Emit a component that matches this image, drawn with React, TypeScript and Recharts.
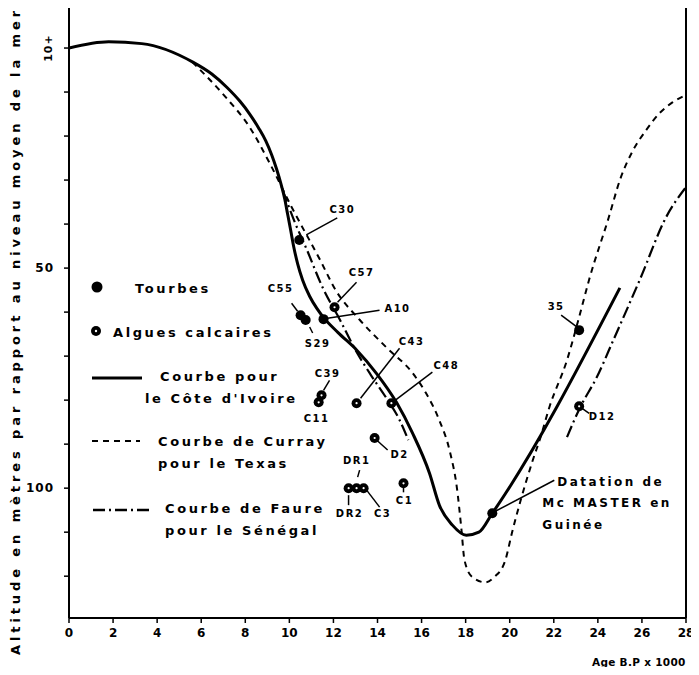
import React from "react"
import {
  ComposedChart,
  Line,
  Scatter,
  XAxis,
  YAxis,
  ReferenceLine,
} from "recharts"

// courbe pour la Côte d'Ivoire (trait plein)
const coteIvoire = [
  { x: 0, y: 0 }, { x: 1.8, y: -1.4 }, { x: 3.3, y: -1.0 }, { x: 5.62, y: 3.2 },
  { x: 6.48, y: 5.9 }, { x: 7.16, y: 8.9 }, { x: 7.75, y: 12.05 }, { x: 8.2, y: 15 },
  { x: 8.61, y: 18.2 }, { x: 8.93, y: 21.1 }, { x: 9.2, y: 24.3 }, { x: 9.42, y: 27.5 },
  { x: 9.61, y: 30.7 }, { x: 9.79, y: 34.3 }, { x: 9.92, y: 37.7 }, { x: 10.06, y: 41.4 },
  { x: 10.2, y: 45.2 }, { x: 10.38, y: 49.1 }, { x: 10.6, y: 52.7 }, { x: 10.92, y: 56.4 },
  { x: 11.24, y: 59.1 }, { x: 11.5, y: 60.9 }, { x: 12.2, y: 64.6 }, { x: 13.05, y: 68.6 },
  { x: 13.95, y: 73.9 }, { x: 14.86, y: 80.5 }, { x: 15.59, y: 87.5 }, { x: 16.36, y: 96.6 },
  { x: 16.81, y: 103.9 }, { x: 17.4, y: 108.4 }, { x: 18.03, y: 110.7 }, { x: 18.6, y: 110 },
  { x: 19.21, y: 105.7 }, { x: 25.0, y: 54.5 },
]

// courbe de Curray (tirets)
const curray = [
  { x: 5.6, y: 3.2 }, { x: 7.1, y: 11.1 }, { x: 8.2, y: 18 }, { x: 9.1, y: 26.1 },
  { x: 10.1, y: 36.1 }, { x: 11.4, y: 48.2 }, { x: 12.1, y: 55 }, { x: 13.2, y: 61.8 },
  { x: 14.4, y: 68 }, { x: 15.6, y: 73.9 }, { x: 16.2, y: 78.4 }, { x: 16.8, y: 84.5 },
  { x: 17.3, y: 92 }, { x: 17.6, y: 99.8 }, { x: 17.8, y: 108.9 }, { x: 17.95, y: 116.4 },
  { x: 18.3, y: 120.2 }, { x: 18.9, y: 121.4 }, { x: 19.3, y: 120.2 }, { x: 19.8, y: 116.4 },
  { x: 20.1, y: 110.2 }, { x: 20.5, y: 102.7 }, { x: 21.05, y: 93.6 }, { x: 21.4, y: 88.4 },
  { x: 21.8, y: 81.6 }, { x: 22.6, y: 70.9 }, { x: 23.2, y: 60.2 }, { x: 23.6, y: 52.7 },
  { x: 24.5, y: 38.4 }, { x: 25, y: 30 }, { x: 25.6, y: 23.2 }, { x: 26.2, y: 18.6 },
  { x: 26.8, y: 14.8 }, { x: 27.4, y: 12.3 }, { x: 28, y: 10.7 },
]

// courbe de Faure (trait-point), deux tronçons
const faureA = [
  { x: 9.7, y: 32.3 }, { x: 10.2, y: 39 }, { x: 10.8, y: 45.9 }, { x: 11.5, y: 54.3 },
  { x: 12.3, y: 61.8 }, { x: 13.0, y: 68.6 }, { x: 13.7, y: 74.3 }, { x: 14.4, y: 79.5 },
  { x: 15.0, y: 84.5 }, { x: 15.4, y: 89.1 },
]
const faureB = [
  { x: 22.6, y: 88.4 }, { x: 23.2, y: 81.6 }, { x: 23.95, y: 74.8 }, { x: 24.7, y: 66.4 },
  { x: 25.5, y: 57.3 }, { x: 25.9, y: 52.7 }, { x: 27.1, y: 38.4 }, { x: 28, y: 31.6 },
]

// échantillons
const tourbes = [
  { name: "C30", x: 10.45, y: 43.6 },
  { name: "C55", x: 10.51, y: 60.7 },
  { name: "S29", x: 10.74, y: 61.8 },
  { name: "A10", x: 11.55, y: 61.6 },
  { name: "35", x: 23.15, y: 64.1 },
  { name: "McMaster", x: 19.21, y: 105.7 },
]
const algues = [
  { name: "C57", x: 12.05, y: 58.9 },
  { name: "C43", x: 13.05, y: 80.7 },
  { name: "C48", x: 14.63, y: 80.7 },
  { name: "C39", x: 11.46, y: 78.9 },
  { name: "C11", x: 11.33, y: 80.5 },
  { name: "D2", x: 13.87, y: 88.6 },
  { name: "DR1", x: 12.69, y: 100 },
  { name: "DR2", x: 13.05, y: 100 },
  { name: "C3", x: 13.37, y: 100 },
  { name: "C1", x: 15.18, y: 98.9 },
  { name: "D12", x: 23.15, y: 81.4 },
]

const xTicks = [0, 2, 4, 6, 8, 10, 12, 14, 16, 18, 20, 22, 24, 26, 28]
const yTicks = [0, 10, 20, 30, 40, 50, 60, 70, 80, 90, 100, 110, 120]
const yTickLabels: Record<number, string> = { 0: "10+", 50: "50", 100: "100" }

// position of label / leader relative to the point, in px
const callouts: Record<string, { lx: number; ly: number; l?: number[] }> = {
  C30: { lx: 43, ly: -30, l: [7, -5, 38, -22] },
  C55: { lx: -20, ly: -27, l: [-9, -12, -3, -4] },
  S29: { lx: 12, ly: 23, l: [4, 7, 7, 13] },
  A10: { lx: 74, ly: -11, l: [4, -1, 56, -9] },
  C57: { lx: 27, ly: -35, l: [3, -5, 22, -25] },
  C43: { lx: 55, ly: -62, l: [4, -5, 43, -55] },
  C48: { lx: 55, ly: -38, l: [4, -3, 41, -31] },
  C39: { lx: 6, ly: -22, l: [2, -5, 8, -15] },
  C11: { lx: -2, ly: 16 },
  D2: { lx: 25, ly: 17, l: [3, 3, 13, 12] },
  DR1: { lx: 8, ly: -28, l: [11, -18, 9, -11] },
  DR2: { lx: -7, ly: 25, l: [-8, 7, -8, 17] },
  C3: { lx: 19, ly: 25, l: [3, 2, 16, 19] },
  C1: { lx: 1, ly: 17, l: [0, 4, 0, 9] },
  "35": { lx: -23, ly: -24, l: [-18, -15, -2, -3] },
  D12: { lx: 23, ly: 10, l: [3, 2, 10, 7] },
  McMaster: { lx: 0, ly: 0, l: [3, -2, 62, -33] },
}

const font = "'DejaVu Sans', sans-serif"

const Callout = ({ cx, cy, name }: { cx: number; cy: number; name: string }) => {
  const c = callouts[name]
  if (!c) return null
  return (
    <g>
      {c.l && (
        <line
          x1={cx + c.l[0]} y1={cy + c.l[1]} x2={cx + c.l[2]} y2={cy + c.l[3]}
          stroke="#000" strokeWidth={1.5}
        />
      )}
      {name === "McMaster" ? (
        <text fontFamily={font} fontWeight="bold" fontSize={12} letterSpacing={2.5}>
          <tspan x={cx + 65} y={cy - 27}>Datation de</tspan>
          <tspan x={cx + 50} y={cy - 6}>Mc MASTER en</tspan>
          <tspan x={cx + 50} y={cy + 16}>Guinée</tspan>
        </text>
      ) : (
        <text
          x={cx + c.lx} y={cy + c.ly} textAnchor="middle" dominantBaseline="central"
          fontFamily={font} fontWeight="bold" fontSize={10} letterSpacing={1.5}
        >
          {name}
        </text>
      )}
    </g>
  )
}

const TourbeShape = (props: any) => {
  const { cx, cy, payload } = props
  return (
    <g>
      <Callout cx={cx} cy={cy} name={payload.name} />
      <circle cx={cx} cy={cy} r={5} fill="#000" stroke="none" />
    </g>
  )
}

const AlgueShape = (props: any) => {
  const { cx, cy, payload } = props
  return (
    <g>
      <Callout cx={cx} cy={cy} name={payload.name} />
      <circle cx={cx} cy={cy} r={5} fill="#000" stroke="none" />
      <circle cx={cx} cy={cy} r={1.1} fill="#fff" stroke="none" />
    </g>
  )
}

const XTick = ({ x, y, payload }: any) => (
  <text
    x={x} y={y + 8} textAnchor="middle" dominantBaseline="central"
    fontFamily={font} fontWeight="bold" fontSize={12}
  >
    {payload.value}
  </text>
)

const YTick = ({ x, y, payload }: any) => {
  const label = yTickLabels[payload.value]
  if (!label) return null
  if (payload.value === 0) {
    return (
      <text
        x={x - 13} y={y} textAnchor="middle" dominantBaseline="central"
        transform={`rotate(-90 ${x - 13} ${y})`}
        fontFamily={font} fontWeight="bold" fontSize={11} letterSpacing={1}
      >
        {label}
      </text>
    )
  }
  return (
    <text
      x={x - 8} y={y} textAnchor="end" dominantBaseline="central"
      fontFamily={font} fontWeight="bold" fontSize={12} letterSpacing={1}
    >
      {label}
    </text>
  )
}

const txt = { fontFamily: font, fontWeight: "bold" as const, fontSize: 13, letterSpacing: 2.6 }

export default function App() {
  return (
    <div style={{ position: "relative", width: 699, height: 675, margin: -8, background: "#fff" }}>
      <ComposedChart
        width={699}
        height={675}
        margin={{ top: 6, right: 13, left: 39, bottom: 27 }}
      >
        <XAxis
          type="number" dataKey="x" domain={[0, 28]} ticks={xTicks} height={30}
          allowDataOverflow interval={0}
          axisLine={{ stroke: "#000", strokeWidth: 2 }}
          tickLine={{ stroke: "#000", strokeWidth: 1.5 }} tickSize={5}
          tick={<XTick />}
        />
        <YAxis
          type="number" dataKey="y" domain={[-9.55, 129.5]} reversed ticks={yTicks}
          width={30} allowDataOverflow interval={0}
          axisLine={{ stroke: "#000", strokeWidth: 2 }}
          tickLine={{ stroke: "#000", strokeWidth: 1.5 }} tickSize={5}
          tick={<YTick />}
        />
        <ReferenceLine x={28} stroke="#000" strokeWidth={2} />
        <Line
          data={curray} dataKey="y" type="monotone" dot={false}
          stroke="#000" strokeWidth={2} strokeDasharray="6 5" isAnimationActive={false}
        />
        <Line
          data={faureA} dataKey="y" type="monotone" dot={false}
          stroke="#000" strokeWidth={2.2} strokeDasharray="12 4 2 4" isAnimationActive={false}
        />
        <Line
          data={faureB} dataKey="y" type="monotone" dot={false}
          stroke="#000" strokeWidth={2.2} strokeDasharray="12 4 2 4" isAnimationActive={false}
        />
        <Line
          data={coteIvoire} dataKey="y" type="monotone" dot={false}
          stroke="#000" strokeWidth={3} isAnimationActive={false}
        />
        <Scatter data={algues} shape={<AlgueShape />} isAnimationActive={false} />
        <Scatter data={tourbes} shape={<TourbeShape />} isAnimationActive={false} />
      </ComposedChart>

      <svg
        width={699} height={675}
        style={{ position: "absolute", left: 0, top: 0, pointerEvents: "none" }}
      >
        <text
          x={15} y={331} textAnchor="middle" dominantBaseline="central"
          transform="rotate(-90 15 331)" {...txt} fontSize={13} letterSpacing={3.9}
        >
          Altitude en mètres par rapport au niveau moyen de la mer
        </text>
        <text x={592} y={662} dominantBaseline="central" {...txt} fontSize={10.5} letterSpacing={0.3}>
          Age B.P x 1000
        </text>

        <circle cx={97} cy={287} r={5.5} fill="#000" />
        <text x={135} y={288} dominantBaseline="central" {...txt}>Tourbes</text>

        <circle cx={96} cy={331} r={5} fill="#000" />
        <circle cx={96} cy={331} r={1.2} fill="#fff" />
        <text x={113} y={332} dominantBaseline="central" {...txt}>Algues calcaires</text>

        <line x1={92} y1={378} x2={142} y2={378} stroke="#000" strokeWidth={3} />
        <text x={160} y={376} dominantBaseline="central" {...txt}>Courbe pour</text>
        <text x={145} y={398} dominantBaseline="central" {...txt}>le Côte d'Ivoire</text>

        <line x1={92} y1={441} x2={140} y2={441} stroke="#000" strokeWidth={2} strokeDasharray="6 5" />
        <text x={158} y={441} dominantBaseline="central" {...txt}>Courbe de Curray</text>
        <text x={158} y={463} dominantBaseline="central" {...txt}>pour le Texas</text>

        <line x1={93} y1={510} x2={153} y2={510} stroke="#000" strokeWidth={2.5} strokeDasharray="12 4 2 4" />
        <text x={165} y={508} dominantBaseline="central" {...txt}>Courbe de Faure</text>
        <text x={165} y={530} dominantBaseline="central" {...txt}>pour le Sénégal</text>
      </svg>
    </div>
  )
}
